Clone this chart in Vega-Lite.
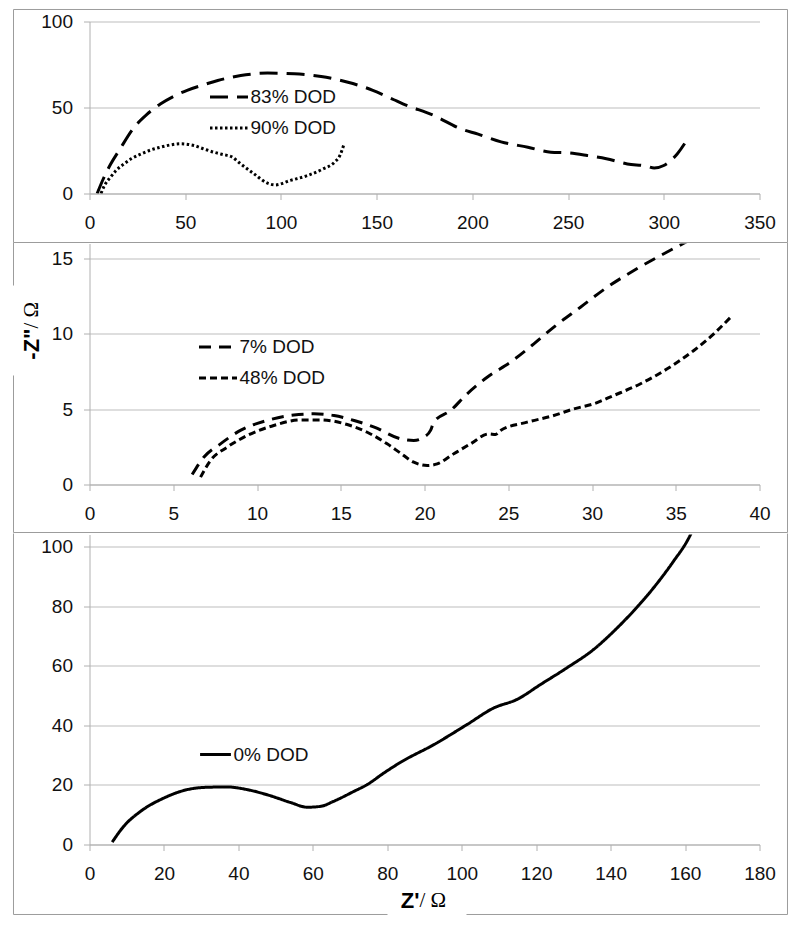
{
  "$schema": "https://vega.github.io/schema/vega-lite/v6.json",
  "padding": {"left": 12.5, "top": 8.5, "right": 12.5, "bottom": 12.5},
  "background": "white",
  "datasets": {
    "p1": [
      {"series": "83% DOD", "i": 1, "x": 4, "y": 0},
      {"series": "83% DOD", "i": 2, "x": 7, "y": 8},
      {"series": "83% DOD", "i": 3, "x": 11, "y": 17},
      {"series": "83% DOD", "i": 4, "x": 16, "y": 26},
      {"series": "83% DOD", "i": 5, "x": 23, "y": 38},
      {"series": "83% DOD", "i": 6, "x": 30, "y": 46},
      {"series": "83% DOD", "i": 7, "x": 37, "y": 52},
      {"series": "83% DOD", "i": 8, "x": 44, "y": 56.5},
      {"series": "83% DOD", "i": 9, "x": 51, "y": 60},
      {"series": "83% DOD", "i": 10, "x": 59, "y": 63},
      {"series": "83% DOD", "i": 11, "x": 67, "y": 65.7},
      {"series": "83% DOD", "i": 12, "x": 79, "y": 68.6},
      {"series": "83% DOD", "i": 13, "x": 93, "y": 70},
      {"series": "83% DOD", "i": 14, "x": 107, "y": 69.6},
      {"series": "83% DOD", "i": 15, "x": 121, "y": 68},
      {"series": "83% DOD", "i": 16, "x": 135, "y": 64.7},
      {"series": "83% DOD", "i": 17, "x": 148, "y": 60},
      {"series": "83% DOD", "i": 18, "x": 159, "y": 54.5},
      {"series": "83% DOD", "i": 19, "x": 164, "y": 52},
      {"series": "83% DOD", "i": 20, "x": 180, "y": 45.3},
      {"series": "83% DOD", "i": 21, "x": 194, "y": 37.6},
      {"series": "83% DOD", "i": 22, "x": 203, "y": 34.5},
      {"series": "83% DOD", "i": 23, "x": 215, "y": 30},
      {"series": "83% DOD", "i": 24, "x": 229, "y": 26.9},
      {"series": "83% DOD", "i": 25, "x": 241, "y": 24},
      {"series": "83% DOD", "i": 26, "x": 250, "y": 23.6},
      {"series": "83% DOD", "i": 27, "x": 260, "y": 22.1},
      {"series": "83% DOD", "i": 28, "x": 270, "y": 20.2},
      {"series": "83% DOD", "i": 29, "x": 281, "y": 17.2},
      {"series": "83% DOD", "i": 30, "x": 291, "y": 15.9},
      {"series": "83% DOD", "i": 31, "x": 295, "y": 14.8},
      {"series": "83% DOD", "i": 32, "x": 300, "y": 16.3},
      {"series": "83% DOD", "i": 33, "x": 307, "y": 23},
      {"series": "83% DOD", "i": 34, "x": 313, "y": 32.7},
      {"series": "90% DOD", "i": 1, "x": 6, "y": 0},
      {"series": "90% DOD", "i": 2, "x": 8, "y": 5},
      {"series": "90% DOD", "i": 3, "x": 11, "y": 9.5},
      {"series": "90% DOD", "i": 4, "x": 14, "y": 13.5},
      {"series": "90% DOD", "i": 5, "x": 18, "y": 17.2},
      {"series": "90% DOD", "i": 6, "x": 22, "y": 20.3},
      {"series": "90% DOD", "i": 7, "x": 27, "y": 23},
      {"series": "90% DOD", "i": 8, "x": 32, "y": 25.3},
      {"series": "90% DOD", "i": 9, "x": 37, "y": 26.9},
      {"series": "90% DOD", "i": 10, "x": 42, "y": 28.2},
      {"series": "90% DOD", "i": 11, "x": 47.5, "y": 28.9},
      {"series": "90% DOD", "i": 12, "x": 54.5, "y": 27.9},
      {"series": "90% DOD", "i": 13, "x": 60, "y": 25.8},
      {"series": "90% DOD", "i": 14, "x": 65, "y": 24},
      {"series": "90% DOD", "i": 15, "x": 70, "y": 22.6},
      {"series": "90% DOD", "i": 16, "x": 74, "y": 21.5},
      {"series": "90% DOD", "i": 17, "x": 79, "y": 17.2},
      {"series": "90% DOD", "i": 18, "x": 86, "y": 11.4},
      {"series": "90% DOD", "i": 19, "x": 93, "y": 6},
      {"series": "90% DOD", "i": 20, "x": 97, "y": 5},
      {"series": "90% DOD", "i": 21, "x": 105, "y": 7.6},
      {"series": "90% DOD", "i": 22, "x": 114, "y": 10.5},
      {"series": "90% DOD", "i": 23, "x": 122, "y": 14.3},
      {"series": "90% DOD", "i": 24, "x": 128, "y": 18.2},
      {"series": "90% DOD", "i": 25, "x": 131, "y": 22.5},
      {"series": "90% DOD", "i": 26, "x": 133, "y": 28.9}
    ],
    "p2": [
      {"series": "7% DOD", "i": 1, "x": 6.13, "y": 0.66},
      {"series": "7% DOD", "i": 2, "x": 6.82, "y": 1.81},
      {"series": "7% DOD", "i": 3, "x": 7.82, "y": 2.7},
      {"series": "7% DOD", "i": 4, "x": 9.01, "y": 3.59},
      {"series": "7% DOD", "i": 5, "x": 10.6, "y": 4.25},
      {"series": "7% DOD", "i": 6, "x": 12.2, "y": 4.62},
      {"series": "7% DOD", "i": 7, "x": 13.4, "y": 4.69},
      {"series": "7% DOD", "i": 8, "x": 14.6, "y": 4.58},
      {"series": "7% DOD", "i": 9, "x": 15.8, "y": 4.25},
      {"series": "7% DOD", "i": 10, "x": 17.0, "y": 3.81},
      {"series": "7% DOD", "i": 11, "x": 18.57, "y": 3.03},
      {"series": "7% DOD", "i": 12, "x": 19.36, "y": 2.92},
      {"series": "7% DOD", "i": 13, "x": 19.96, "y": 3.14},
      {"series": "7% DOD", "i": 14, "x": 20.36, "y": 3.59},
      {"series": "7% DOD", "i": 15, "x": 20.56, "y": 4.14},
      {"series": "7% DOD", "i": 16, "x": 21.55, "y": 4.91},
      {"series": "7% DOD", "i": 17, "x": 22.55, "y": 6.02},
      {"series": "7% DOD", "i": 18, "x": 23.74, "y": 7.12},
      {"series": "7% DOD", "i": 19, "x": 25.13, "y": 8.12},
      {"series": "7% DOD", "i": 20, "x": 26.53, "y": 9.34},
      {"series": "7% DOD", "i": 21, "x": 27.72, "y": 10.45},
      {"series": "7% DOD", "i": 22, "x": 29.31, "y": 11.77},
      {"series": "7% DOD", "i": 23, "x": 30.91, "y": 13.1},
      {"series": "7% DOD", "i": 24, "x": 32.5, "y": 14.21},
      {"series": "7% DOD", "i": 25, "x": 34.29, "y": 15.32},
      {"series": "7% DOD", "i": 26, "x": 35.48, "y": 16.02},
      {"series": "7% DOD", "i": 27, "x": 36.5, "y": 16.6},
      {"series": "48% DOD", "i": 1, "x": 6.63, "y": 0.49},
      {"series": "48% DOD", "i": 2, "x": 7.22, "y": 1.59},
      {"series": "48% DOD", "i": 3, "x": 8.22, "y": 2.48},
      {"series": "48% DOD", "i": 4, "x": 9.41, "y": 3.25},
      {"series": "48% DOD", "i": 5, "x": 11.0, "y": 3.92},
      {"series": "48% DOD", "i": 6, "x": 12.6, "y": 4.29},
      {"series": "48% DOD", "i": 7, "x": 13.79, "y": 4.29},
      {"series": "48% DOD", "i": 8, "x": 15.39, "y": 3.98},
      {"series": "48% DOD", "i": 9, "x": 16.58, "y": 3.47},
      {"series": "48% DOD", "i": 10, "x": 17.77, "y": 2.7},
      {"series": "48% DOD", "i": 11, "x": 18.57, "y": 2.08},
      {"series": "48% DOD", "i": 12, "x": 19.36, "y": 1.48},
      {"series": "48% DOD", "i": 13, "x": 20.16, "y": 1.26},
      {"series": "48% DOD", "i": 14, "x": 20.76, "y": 1.37},
      {"series": "48% DOD", "i": 15, "x": 21.75, "y": 2.04},
      {"series": "48% DOD", "i": 16, "x": 22.75, "y": 2.7},
      {"series": "48% DOD", "i": 17, "x": 23.84, "y": 3.36},
      {"series": "48% DOD", "i": 18, "x": 24.24, "y": 3.32},
      {"series": "48% DOD", "i": 19, "x": 24.54, "y": 3.59},
      {"series": "48% DOD", "i": 20, "x": 26.13, "y": 4.14},
      {"series": "48% DOD", "i": 21, "x": 27.72, "y": 4.58},
      {"series": "48% DOD", "i": 22, "x": 28.91, "y": 5.02},
      {"series": "48% DOD", "i": 23, "x": 30.11, "y": 5.36},
      {"series": "48% DOD", "i": 24, "x": 31.3, "y": 5.91},
      {"series": "48% DOD", "i": 25, "x": 32.9, "y": 6.69},
      {"series": "48% DOD", "i": 26, "x": 34.49, "y": 7.68},
      {"series": "48% DOD", "i": 27, "x": 36.08, "y": 8.9},
      {"series": "48% DOD", "i": 28, "x": 37.27, "y": 10.0},
      {"series": "48% DOD", "i": 29, "x": 38.27, "y": 11.1}
    ],
    "p3": [
      {"series": "0% DOD", "i": 1, "x": 6.1, "y": 0.8},
      {"series": "0% DOD", "i": 2, "x": 9.2, "y": 6.1},
      {"series": "0% DOD", "i": 3, "x": 13.7, "y": 11.1},
      {"series": "0% DOD", "i": 4, "x": 20, "y": 15.6},
      {"series": "0% DOD", "i": 5, "x": 26.2, "y": 18.4},
      {"series": "0% DOD", "i": 6, "x": 31.6, "y": 19.2},
      {"series": "0% DOD", "i": 7, "x": 37, "y": 19.3},
      {"series": "0% DOD", "i": 8, "x": 42.4, "y": 18.4},
      {"series": "0% DOD", "i": 9, "x": 47.7, "y": 16.7},
      {"series": "0% DOD", "i": 10, "x": 54, "y": 14.1},
      {"series": "0% DOD", "i": 11, "x": 58.5, "y": 12.5},
      {"series": "0% DOD", "i": 12, "x": 62.1, "y": 12.8},
      {"series": "0% DOD", "i": 13, "x": 65.6, "y": 14.5},
      {"series": "0% DOD", "i": 14, "x": 71, "y": 17.8},
      {"series": "0% DOD", "i": 15, "x": 74.6, "y": 20.1},
      {"series": "0% DOD", "i": 16, "x": 79.1, "y": 24},
      {"series": "0% DOD", "i": 17, "x": 83.6, "y": 27.6},
      {"series": "0% DOD", "i": 18, "x": 92.5, "y": 33.5},
      {"series": "0% DOD", "i": 19, "x": 101.5, "y": 40.3},
      {"series": "0% DOD", "i": 20, "x": 108.6, "y": 45.8},
      {"series": "0% DOD", "i": 21, "x": 114.9, "y": 48.7},
      {"series": "0% DOD", "i": 22, "x": 121.2, "y": 53.7},
      {"series": "0% DOD", "i": 23, "x": 128.3, "y": 59.3},
      {"series": "0% DOD", "i": 24, "x": 135.5, "y": 65.5},
      {"series": "0% DOD", "i": 25, "x": 140.9, "y": 71.6},
      {"series": "0% DOD", "i": 26, "x": 146.2, "y": 78.4},
      {"series": "0% DOD", "i": 27, "x": 151.6, "y": 86.2},
      {"series": "0% DOD", "i": 28, "x": 157, "y": 95.2},
      {"series": "0% DOD", "i": 29, "x": 160.6, "y": 101.9},
      {"series": "0% DOD", "i": 30, "x": 163.2, "y": 108.6}
    ]
  },
  "bounds": "flush",
  "spacing": 50,
  "resolve": {"scale": {"strokeDash": "independent"}, "legend": {"strokeDash": "independent"}},
  "vconcat": [
    {
      "width": 670,
      "height": 172,
      "layer": [
        {
          "data": {"name": "p1"},
          "mark": {"type": "line", "color": "black", "strokeWidth": 3, "interpolate": "monotone", "clip": true},
          "encoding": {
            "x": {"field": "x", "type": "quantitative", "scale": {"domain": [0, 350], "nice": false, "zero": false}, "axis": {"values": [0, 50, 100, 150, 200, 250, 300, 350], "title": null}},
            "y": {"field": "y", "type": "quantitative", "scale": {"domain": [0, 100], "nice": false}, "axis": {"values": [0, 50, 100], "title": null}},
            "strokeDash": {"field": "series", "type": "nominal", "scale": {"domain": ["83% DOD", "90% DOD"], "range": [[18, 9], [2.5, 2.5]]}, "legend": {"orient": "none", "legendX": 119, "legendY": 55, "title": null}},
            "order": {"field": "i", "type": "quantitative"}
          }
        },
        {
          "data": {"values": [{}]},
          "mark": {"type": "rule", "color": "#9c9c9c", "strokeWidth": 1, "clip": false},
          "encoding": {
            "x": {"datum": -39.7, "type": "quantitative", "scale": {"domain": [0, 350], "nice": false, "zero": false}},
            "x2": {"datum": 364.63},
            "y": {"datum": 106.98, "type": "quantitative", "scale": {"domain": [0, 100], "nice": false}}
          }
        },
        {
          "data": {"values": [{}]},
          "mark": {"type": "rule", "color": "#9c9c9c", "strokeWidth": 1, "clip": false},
          "encoding": {
            "x": {"datum": -39.7, "type": "quantitative", "scale": {"domain": [0, 350], "nice": false, "zero": false}},
            "y": {"datum": 106.98, "type": "quantitative", "scale": {"domain": [0, 100], "nice": false}},
            "y2": {"datum": -28.49}
          }
        },
        {
          "data": {"values": [{}]},
          "mark": {"type": "rule", "color": "#9c9c9c", "strokeWidth": 1, "clip": false},
          "encoding": {
            "x": {"datum": 364.63, "type": "quantitative", "scale": {"domain": [0, 350], "nice": false, "zero": false}},
            "y": {"datum": 106.98, "type": "quantitative", "scale": {"domain": [0, 100], "nice": false}},
            "y2": {"datum": -28.49}
          }
        }
      ]
    },
    {
      "width": 670,
      "height": 241,
      "layer": [
        {
          "data": {"name": "p2"},
          "mark": {"type": "line", "color": "black", "strokeWidth": 3, "interpolate": "monotone", "clip": true},
          "encoding": {
            "x": {"field": "x", "type": "quantitative", "scale": {"domain": [0, 40], "nice": false, "zero": false}, "axis": {"values": [0, 5, 10, 15, 20, 25, 30, 35, 40], "title": null}},
            "y": {"field": "y", "type": "quantitative", "scale": {"domain": [0, 16], "nice": false}, "axis": {"values": [0, 5, 10, 15], "title": null}},
            "strokeDash": {"field": "series", "type": "nominal", "scale": {"domain": ["7% DOD", "48% DOD"], "range": [[12, 8], [7, 4]]}, "legend": {"orient": "none", "legendX": 108, "legendY": 83, "title": null}},
            "order": {"field": "i", "type": "quantitative"}
          }
        },
        {
          "data": {"values": [{}]},
          "mark": {"type": "rule", "color": "#9c9c9c", "strokeWidth": 1, "clip": false},
          "encoding": {
            "x": {"datum": -4.537, "type": "quantitative", "scale": {"domain": [0, 40], "nice": false, "zero": false}},
            "x2": {"datum": 41.672},
            "y": {"datum": 16.066, "type": "quantitative", "scale": {"domain": [0, 16], "nice": false}}
          }
        },
        {
          "data": {"values": [{}]},
          "mark": {"type": "rule", "color": "#9c9c9c", "strokeWidth": 1, "clip": false},
          "encoding": {
            "x": {"datum": -4.537, "type": "quantitative", "scale": {"domain": [0, 40], "nice": false, "zero": false}},
            "x2": {"datum": 41.672},
            "y": {"datum": -3.187, "type": "quantitative", "scale": {"domain": [0, 16], "nice": false}}
          }
        },
        {
          "data": {"values": [{}]},
          "mark": {"type": "rule", "color": "#9c9c9c", "strokeWidth": 1, "clip": false},
          "encoding": {
            "x": {"datum": -4.537, "type": "quantitative", "scale": {"domain": [0, 40], "nice": false, "zero": false}},
            "y": {"datum": 16.066, "type": "quantitative", "scale": {"domain": [0, 16], "nice": false}},
            "y2": {"datum": 13.21}
          }
        },
        {
          "data": {"values": [{}]},
          "mark": {"type": "rule", "color": "#9c9c9c", "strokeWidth": 1, "clip": false},
          "encoding": {
            "x": {"datum": -4.537, "type": "quantitative", "scale": {"domain": [0, 40], "nice": false, "zero": false}},
            "y": {"datum": 7.237, "type": "quantitative", "scale": {"domain": [0, 16], "nice": false}},
            "y2": {"datum": -3.187}
          }
        },
        {
          "data": {"values": [{}]},
          "mark": {"type": "rule", "color": "#9c9c9c", "strokeWidth": 1, "clip": false},
          "encoding": {
            "x": {"datum": 41.672, "type": "quantitative", "scale": {"domain": [0, 40], "nice": false, "zero": false}},
            "y": {"datum": 16.066, "type": "quantitative", "scale": {"domain": [0, 16], "nice": false}},
            "y2": {"datum": -3.187}
          }
        },
        {
          "data": {"values": [{}]},
          "mark": {"type": "text", "angle": 270, "align": "right", "baseline": "middle", "font": "Liberation Sans", "fontSize": 22, "fontWeight": "bold", "color": "black", "clip": false},
          "encoding": {
            "x": {"datum": -3.433, "type": "quantitative", "scale": {"domain": [0, 40], "nice": false, "zero": false}},
            "y": {"datum": 10.357, "type": "quantitative", "scale": {"domain": [0, 16], "nice": false}},
            "text": {"value": "-Z\""}
          }
        },
        {
          "data": {"values": [{}]},
          "mark": {"type": "text", "angle": 270, "align": "left", "baseline": "middle", "font": "Liberation Serif", "fontSize": 21, "color": "black", "clip": false},
          "encoding": {
            "x": {"datum": -3.433, "type": "quantitative", "scale": {"domain": [0, 40], "nice": false, "zero": false}},
            "y": {"datum": 10.357, "type": "quantitative", "scale": {"domain": [0, 16], "nice": false}},
            "text": {"value": "\u00a0/ Ω"}
          }
        }
      ]
    },
    {
      "width": 670,
      "height": 310,
      "layer": [
        {
          "data": {"name": "p3"},
          "mark": {"type": "line", "color": "black", "strokeWidth": 3, "interpolate": "monotone", "clip": true},
          "encoding": {
            "x": {"field": "x", "type": "quantitative", "scale": {"domain": [0, 180], "nice": false, "zero": false}, "axis": {"values": [0, 20, 40, 60, 80, 100, 120, 140, 160, 180], "title": null}},
            "y": {"field": "y", "type": "quantitative", "scale": {"domain": [0, 104], "nice": false}, "axis": {"values": [0, 20, 40, 60, 80, 100], "title": null}},
            "strokeDash": {"field": "series", "type": "nominal", "scale": {"domain": ["0% DOD"], "range": [[1, 0]]}, "legend": {"orient": "none", "legendX": 109, "legendY": 203, "title": null, "symbolSize": 950}},
            "order": {"field": "i", "type": "quantitative"}
          }
        },
        {
          "data": {"values": [{}]},
          "mark": {"type": "rule", "color": "#9c9c9c", "strokeWidth": 1, "clip": false},
          "encoding": {
            "x": {"datum": -20.42, "type": "quantitative", "scale": {"domain": [0, 180], "nice": false, "zero": false}},
            "y": {"datum": 104.34, "type": "quantitative", "scale": {"domain": [0, 104], "nice": false}},
            "y2": {"datum": -23.48}
          }
        },
        {
          "data": {"values": [{}]},
          "mark": {"type": "rule", "color": "#9c9c9c", "strokeWidth": 1, "clip": false},
          "encoding": {
            "x": {"datum": 187.52, "type": "quantitative", "scale": {"domain": [0, 180], "nice": false, "zero": false}},
            "y": {"datum": 104.34, "type": "quantitative", "scale": {"domain": [0, 104], "nice": false}},
            "y2": {"datum": -23.48}
          }
        },
        {
          "data": {"values": [{}]},
          "mark": {"type": "rule", "color": "#9c9c9c", "strokeWidth": 1, "clip": false},
          "encoding": {
            "x": {"datum": -20.42, "type": "quantitative", "scale": {"domain": [0, 180], "nice": false, "zero": false}},
            "x2": {"datum": 80.06},
            "y": {"datum": -23.48, "type": "quantitative", "scale": {"domain": [0, 104], "nice": false}}
          }
        },
        {
          "data": {"values": [{}]},
          "mark": {"type": "rule", "color": "#9c9c9c", "strokeWidth": 1, "clip": false},
          "encoding": {
            "x": {"datum": 101.28, "type": "quantitative", "scale": {"domain": [0, 180], "nice": false, "zero": false}},
            "x2": {"datum": 187.52},
            "y": {"datum": -23.48, "type": "quantitative", "scale": {"domain": [0, 104], "nice": false}}
          }
        },
        {
          "data": {"values": [{}]},
          "mark": {"type": "text", "align": "right", "baseline": "middle", "font": "Liberation Sans", "fontSize": 22, "fontWeight": "bold", "color": "black", "clip": false},
          "encoding": {
            "x": {"datum": 88.66, "type": "quantitative", "scale": {"domain": [0, 180], "nice": false, "zero": false}},
            "y": {"datum": -19.12, "type": "quantitative", "scale": {"domain": [0, 104], "nice": false}},
            "text": {"value": "Z'"}
          }
        },
        {
          "data": {"values": [{}]},
          "mark": {"type": "text", "align": "left", "baseline": "middle", "font": "Liberation Serif", "fontSize": 21, "color": "black", "clip": false},
          "encoding": {
            "x": {"datum": 88.66, "type": "quantitative", "scale": {"domain": [0, 180], "nice": false, "zero": false}},
            "y": {"datum": -19.12, "type": "quantitative", "scale": {"domain": [0, 104], "nice": false}},
            "text": {"value": "\u00a0/ Ω"}
          }
        }
      ]
    }
  ],
  "config": {
    "font": "Liberation Sans",
    "view": {"stroke": null},
    "axis": {
      "labelFont": "Liberation Sans",
      "labelFontSize": 19,
      "labelColor": "#111111",
      "domainColor": "#b0b0b0",
      "tickColor": "#b0b0b0",
      "gridColor": "#bdbdbd",
      "tickSize": 6,
      "labelFlush": false,
      "labelOverlap": false
    },
    "axisX": {"grid": false, "labelPadding": 14},
    "axisY": {"grid": true, "labelPadding": 11},
    "legend": {
      "labelFont": "Liberation Sans",
      "labelFontSize": 19,
      "labelColor": "#111111",
      "symbolType": "stroke",
      "symbolSize": 1444,
      "symbolStrokeWidth": 3,
      "symbolStrokeColor": "black",
      "labelOffset": 1,
      "rowPadding": -13,
      "padding": 0
    }
  }
}
